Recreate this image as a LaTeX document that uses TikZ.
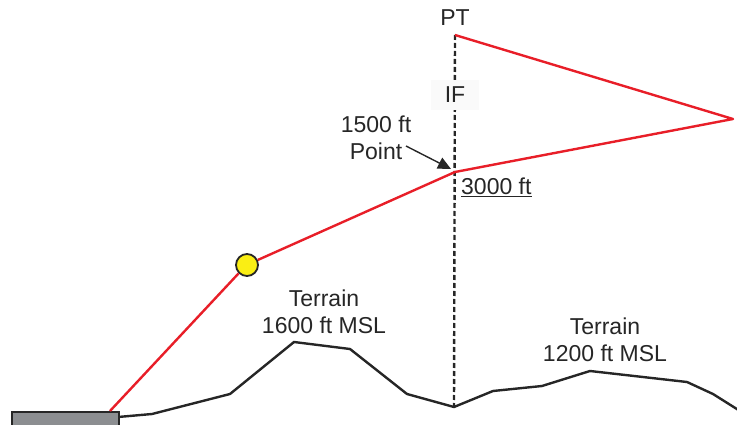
\documentclass[tikz,border=0pt]{standalone}
\usepackage{fontspec}
\setmainfont{Liberation Sans}
\usetikzlibrary{arrows.meta}
\definecolor{rte}{RGB}{232,30,40}
\definecolor{rwy}{RGB}{140,142,145}
\definecolor{ylw}{RGB}{250,238,20}
\tikzset{
  route/.style={draw=rte, line width=2.4pt, line join=round},
  terrain/.style={draw=black!85, line width=2.4pt, line join=miter},
  lbl/.style={font=\fontsize{23}{26.5}\selectfont, text=black!85, align=center, inner sep=0pt},
  fixline/.style={draw=black!85, line width=2.4pt, dash pattern=on 5pt off 3pt}
}
\begin{document}
\begin{tikzpicture}[x=1pt,y=-1pt]
\useasboundingbox (0,0) rectangle (737,425);
% terrain
\coordinate (t0) at (118,417);
\coordinate (t1) at (152,414);
\coordinate (t2) at (230,394);
\coordinate (t3) at (294,342);
\coordinate (t4) at (350,349);
\coordinate (t5) at (407,394);
\coordinate (t6) at (454,407);
\coordinate (t7) at (493,391);
\coordinate (t8) at (542,386);
\coordinate (t9) at (590,371);
\coordinate (t10) at (687,382);
\coordinate (t11) at (713,394);
\coordinate (t12) at (740,411);
% fix line
\coordinate (pt) at (455,35);
\draw[fixline] (pt) -- (t6);
\node[lbl, fill=black!2, minimum width=48pt, minimum height=30pt] (if) at (455,95) {IF};
\node[lbl] (ptl) at (455,18) {PT};
\draw[terrain] (t0) -- (t1) -- (t2) -- (t3) -- (t4) -- (t5) -- (t6) -- (t7) -- (t8) -- (t9) -- (t10) -- (t11) -- (t12);
% runway
\node[draw=black!85, fill=rwy, line width=1.6pt, minimum width=107pt, minimum height=16pt, inner sep=0pt] (rw) at (65.5,420) {};
% route
\coordinate (thr) at (110,411);
\node[circle, draw=black!85, fill=ylw, line width=1.8pt, minimum size=22pt, inner sep=0pt] (vdp) at (247,265) {};
\coordinate (p1500) at (455,172);
\coordinate (tip) at (733,119);
\draw[route] (thr) -- (vdp.225);
\draw[route] (vdp.25) -- (p1500) -- (tip) -- (pt);
% labels
\node[lbl] (ptlabel) at (376,138) {1500 ft\\Point};
\draw[draw=black!85, line width=1.4pt, -{Triangle[length=13pt,width=12pt]}] (406,146) -- (451,169);
\node[lbl, anchor=west] (alt) at (461,187) {\underline{3000 ft}};
\node[lbl] (ter1) at (324,312) {Terrain\\1600 ft MSL};
\node[lbl] (ter2) at (605,340) {Terrain\\1200 ft MSL};
\end{tikzpicture}
\end{document}
